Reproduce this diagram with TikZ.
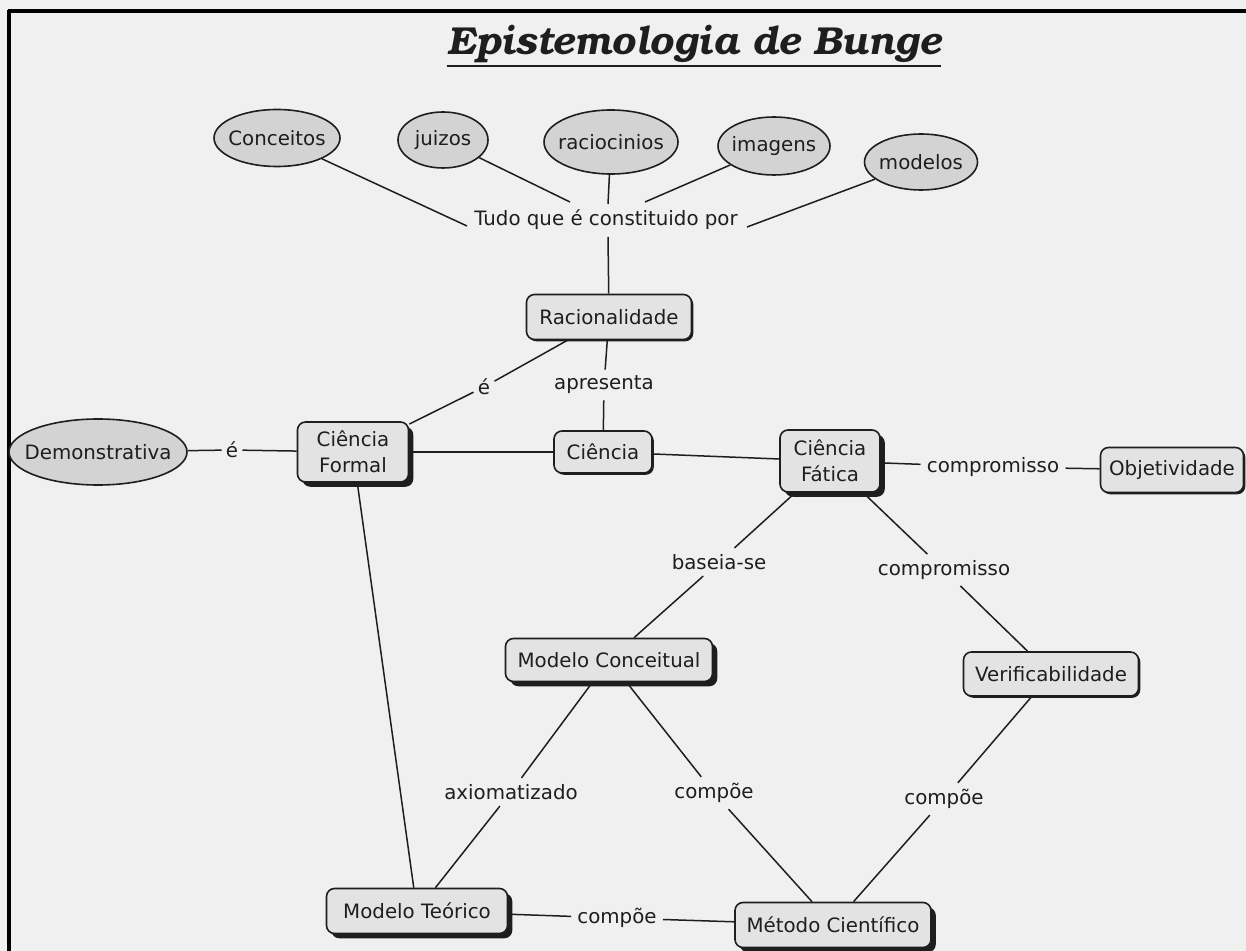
\documentclass[tikz,border=0pt]{standalone}
\usepackage{fontspec}
\setmainfont{DejaVu Sans}
\newfontfamily\titlefont{TeX Gyre Bonum}
\usetikzlibrary{shapes.geometric,shadows}
\definecolor{bg}{HTML}{F0F0F0}
\definecolor{boxfill}{HTML}{E3E3E3}
\definecolor{ellfill}{HTML}{D3D3D3}
\definecolor{ink}{HTML}{1E1E1E}
\newcommand\ct[1]{\makebox[0pt][c]{#1}}
\begin{document}
\begin{tikzpicture}[x=0.5pt,y=-0.5pt,
  every node/.style={text=ink,font=\fontsize{9.9}{13}\selectfont},
  ell/.style={ellipse,draw=ink,fill=ellfill,line width=0.8pt,inner sep=0pt},
  thinbox/.style={rectangle,rounded corners=4pt,draw=ink,fill=boxfill,line width=0.8pt,inner sep=0pt,align=center,
    drop shadow={shadow xshift=0.9pt,shadow yshift=-0.9pt,fill=ink,opacity=1}},
  thickbox/.style={rectangle,rounded corners=4pt,draw=ink,fill=boxfill,line width=0.8pt,inner sep=0pt,align=center,
    drop shadow={shadow xshift=2.4pt,shadow yshift=-2.4pt,fill=ink,opacity=1}},
  lbl/.style={inner sep=3pt},
  conn/.style={draw=ink,line width=0.75pt}]
\useasboundingbox (0,0) rectangle (1246,951);
\fill[bg] (0,0) rectangle (1246,951);
\draw[line width=1.6pt,black] (8,11) -- (1246,11);
\draw[line width=1.6pt,black] (9,10) -- (9,951);

% title
\node[inner sep=0pt,font=\titlefont\bfseries\itshape\fontsize{19.5}{22}\selectfont] (title) at (694,44) {Epistemologia de Bunge};
\draw[line width=1.2pt,ink] ([yshift=-1.5pt]title.south west) -- ([yshift=-1.5pt]title.south east);

% top ellipses
\node[ell,minimum width=63pt,minimum height=28.5pt] (conc) at (277,138) {\ct{Conceitos}};
\node[ell,minimum width=45pt,minimum height=28pt] (juiz) at (443,140) {\ct{juizos}};
\node[ell,minimum width=67pt,minimum height=32pt] (raci) at (611,142) {\ct{raciocinios}};
\node[ell,minimum width=56pt,minimum height=29pt] (imag) at (774,146) {\ct{imagens}};
\node[ell,minimum width=56.5pt,minimum height=28pt] (mode) at (921,162) {\ct{modelos}};
\node[lbl] (tudo) at (606,220) {Tudo que é constituido por};
\coordinate (t1) at (467,226);
\coordinate (t2) at (570,202);
\coordinate (t3) at (608,204);
\coordinate (t4) at (645,202);
\coordinate (t5) at (747,227);
\coordinate (t6) at (608,237);

% boxes
\node[thinbox,minimum width=82.5pt,minimum height=22.5pt] (rac) at (609,317) {Racionalidade};
\node[thinbox,minimum width=49pt,minimum height=21pt] (cie) at (603,452) {Ciência};
\node[thickbox,minimum width=55.5pt,minimum height=30pt] (cf) at (353,452) {Ciência\\Formal};
\node[ell,minimum width=89pt,minimum height=33pt] (dem) at (98,452) {\ct{Demonstrativa}};
\node[thickbox,minimum width=50pt,minimum height=31pt] (cfa) at (830,461) {Ciência\\Fática};
\node[thinbox,minimum width=71.5pt,minimum height=22.5pt] (obj) at (1172,470) {Objetividade};
\node[thickbox,minimum width=103.5pt,minimum height=21.5pt] (mc) at (609,660) {Modelo Conceitual};
\node[thinbox,minimum width=87.5pt,minimum height=22pt] (ver) at (1051,674) {Verificabilidade};
\node[thickbox,minimum width=90.5pt,minimum height=22.5pt] (mt) at (417,911) {Modelo Teórico};
\node[thickbox,minimum width=98pt,minimum height=22.5pt] (met) at (833,925) {Método Científico};

% labels
\node[lbl] (apr) at (604,385) {apresenta};
\node[lbl,inner sep=2pt] (e1) at (484,387) {é};
\node[lbl,inner sep=2pt] (e2) at (232,450) {é};
\node[lbl] (comp1) at (993,467) {compromisso};
\node[lbl] (base) at (719,562) {baseia-se};
\node[lbl] (comp2) at (944,570) {compromisso};
\node[lbl] (axi) at (511,792) {axiomatizado};
\node[lbl] (cp1) at (714,793) {compõe};
\node[lbl] (cp2) at (944,799) {compõe};
\node[lbl] (cp3) at (617,918) {compõe};

% connectors
\draw[conn] (conc) -- (t1);
\draw[conn] (juiz) -- (t2);
\draw[conn] (raci) -- (t3);
\draw[conn] (imag) -- (t4);
\draw[conn] (mode) -- (t5);
\draw[conn] (t6) -- (rac);
\draw[conn] (rac) -- (apr);
\draw[conn] (apr) -- (cie);
\draw[conn] (rac) -- (e1);
\draw[conn] (e1) -- (cf);
\draw[conn] (dem) -- (e2);
\draw[conn] (e2) -- (cf);
\draw[conn] (cf) -- (cie);
\draw[conn] (cie) -- (cfa);
\draw[conn] (cfa) -- (comp1);
\draw[conn] (comp1) -- (obj);
\draw[conn] (cfa) -- (base);
\draw[conn] (base) -- (mc);
\draw[conn] (cfa) -- (comp2);
\draw[conn] (comp2) -- (ver);
\draw[conn] (mc) -- (axi);
\draw[conn] (axi) -- (mt);
\draw[conn] (mc) -- (cp1);
\draw[conn] (cp1) -- (met);
\draw[conn] (ver) -- (cp2);
\draw[conn] (cp2) -- (met);
\draw[conn] (cf) -- (mt);
\draw[conn] (mt) -- (cp3);
\draw[conn] (cp3) -- (met);
\end{tikzpicture}
\end{document}
